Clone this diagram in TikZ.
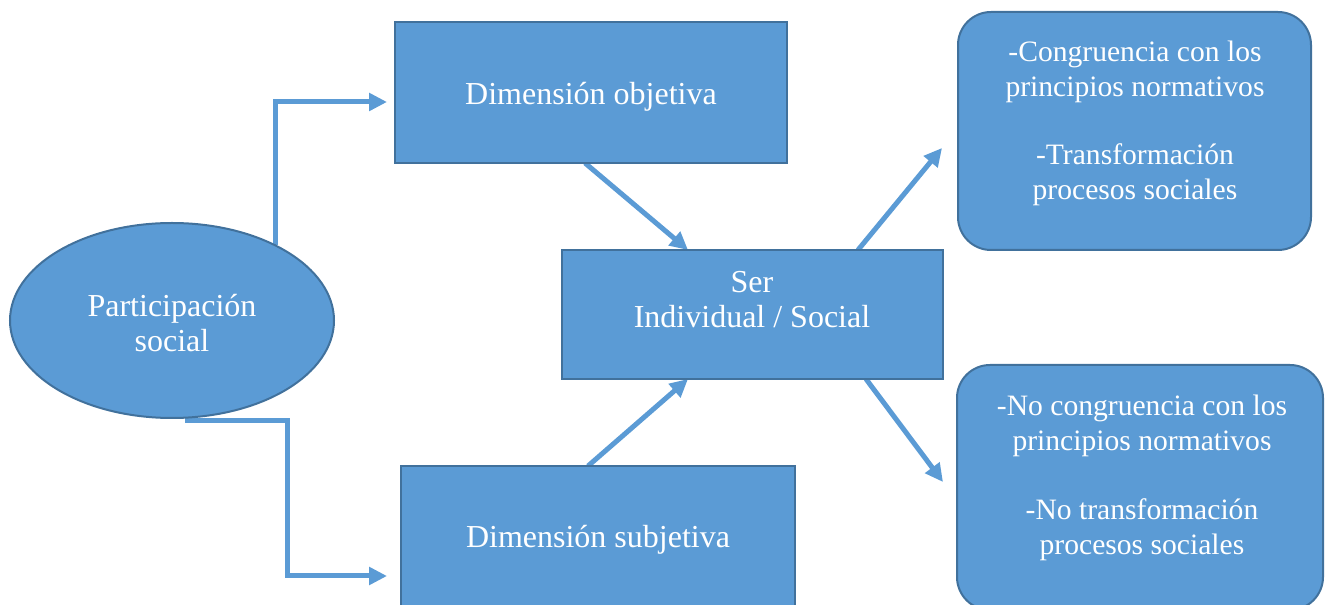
\documentclass[tikz,border=0pt]{standalone}
\usepackage{fontspec}
\setmainfont{Liberation Serif}
\usetikzlibrary{arrows.meta,shapes.geometric,backgrounds,calc}
\definecolor{boxfill}{HTML}{5B9BD5}
\definecolor{boxline}{HTML}{41719C}
\definecolor{arrowcol}{HTML}{5B9BD5}
\begin{document}
\begin{tikzpicture}[x=0.75pt,y=-0.75pt,
  shapebox/.style={draw=boxline, line width=1.5pt, fill=boxfill, inner sep=0pt, outer sep=0pt},
  roundbox/.style={shapebox, rounded corners=24.75pt},
  txt/.style={text=white, font=\fontsize{24}{26.25}\selectfont, align=center, inner sep=0pt},
  smalltxt/.style={txt, font=\fontsize{22.2}{26.25}\selectfont},
  conn/.style={draw=arrowcol, line width=3.75pt, -{Triangle[length=13.5pt,width=13pt]}}
]
\useasboundingbox (0,0) rectangle (1329,605);
\begin{scope}
\clip (0,0) rectangle (1329,605);
% shapes
\node[shapebox, ellipse, minimum width=243pt, minimum height=146.25pt] (el) at (172,320.5) {};
\node[shapebox, rectangle, minimum width=294pt, minimum height=105.75pt] (dimobj) at (591,92.5) {};
\node[shapebox, rectangle, minimum width=295.5pt, minimum height=111pt] (dimsub) at (598,540) {};
\node[shapebox, rectangle, minimum width=285.75pt, minimum height=96.75pt] (ser) at (752.5,314.5) {};
\node[roundbox, rectangle, minimum width=264.75pt, minimum height=178.5pt] (tr) at (1134.5,131) {};
\node[roundbox, rectangle, minimum width=274.5pt, minimum height=183.75pt] (br) at (1140,487.5) {};
% texts
\node[txt] (eltext) at (172,323) {Participación\\social};
\node[txt] (objtext) at (591,97) {Dimensión objetiva};
\node[txt] (subtext) at (598,540) {Dimensión subjetiva};
\node[txt] (sertext) at (752,300) {Ser\\Individual / Social};
\node[smalltxt] (trtext) at (1135,123.5) {-Congruencia con los\\principios normativos\\[25pt]-Transformación\\procesos sociales};
\node[smalltxt] (brtext) at (1142,478) {-No congruencia con los\\principios normativos\\[25pt]-No transformación\\procesos sociales};
\end{scope}
% connector end points
\coordinate (a1) at ($(dimobj.west)+(-8,9.5)$);
\coordinate (b0) at ($(el.south)+(13,3)$);
\coordinate (a2) at ($(dimsub.west)+(-14,36)$);
\begin{pgfonlayer}{background}
\draw[conn] (el.36) |- (a1);
\draw[conn] (b0) -- ++(102,0) |- (a2);
\draw[conn] ($(dimobj.south)+(-6,0)$) -- ($(ser.north)+(-64.5,0)$);
\draw[conn] ($(dimsub.north)+(-10,0)$) -- ($(ser.south)+(-64.5,0)$);
\draw[conn] ($(ser.north)+(105.5,0)$) -- ($(tr.west)+(-16,17)$);
\draw[conn] ($(ser.south)+(113.5,0)$) -- ($(br.west)+(-14,-5.5)$);
\end{pgfonlayer}
\end{tikzpicture}
\end{document}
